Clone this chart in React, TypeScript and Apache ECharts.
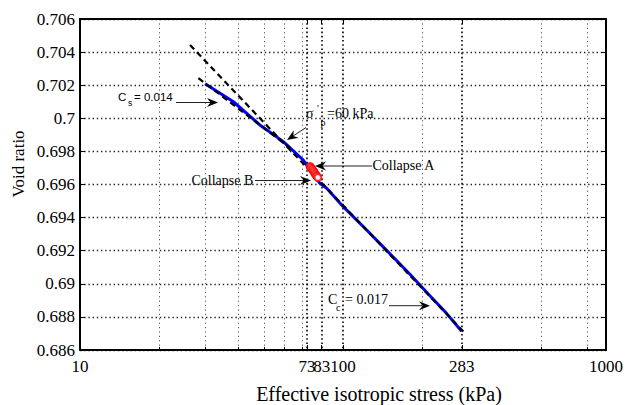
import React, { useEffect, useRef } from "react";
import * as echarts from "echarts";

// Axis ticks (stress in kPa, plotted on a log10 scale)
const stressTicks = [10, 73, 83, 100, 283, 1000];
const minorStressTicks = [20, 30, 40, 50, 60, 70, 200, 566, 849];
const voidMin = 0.686;
const voidMax = 0.706;
const voidStep = 0.002;

// Isotropic compression test record
const testStress = [29.9, 38.3, 48.3, 59.3, 70.6, 81.7, 86.7, 100.2, 123, 146.5, 179.7, 214, 248, 282.5];
const testVoid = [0.70209, 0.701, 0.6996, 0.69859, 0.69748, 0.69607, 0.69577, 0.69466, 0.69325, 0.69202, 0.69058, 0.68928, 0.6882, 0.68713];

// Collapse readings
const collapseStress = [74.9, 75.5, 76.2, 76.9, 77.6, 78.2, 78.9, 79.6, 80.3];
const collapseVoid = [0.69709, 0.69702, 0.69694, 0.69685, 0.69676, 0.69666, 0.69657, 0.6965, 0.69642];

// Fitted compression (Cc) and swelling (Cs) lines
const ccStress = [26.2, 292.8];
const ccVoid = [0.70443, 0.68697];
const csStress = [28.2, 62.9];
const csVoid = [0.70242, 0.69821];

const SERIF = "Liberation Serif";
const SANS = "Liberation Sans";

const lg = (v: number) => Math.log10(v);
const pairs = (xs: number[], ys: number[]) => xs.map((x, i) => [lg(x), ys[i]]);

// text positioned by its alphabetic baseline
function txt(x: number, baseline: number, text: string, size: number, family = SERIF) {
  return {
    type: "text",
    silent: true,
    style: {
      x,
      y: baseline - 0.34 * size,
      text,
      fontFamily: family,
      fontSize: size,
      fill: "#000",
      verticalAlign: "middle",
      align: "left",
    },
  };
}

function arrow(x1: number, y1: number, x2: number, y2: number) {
  const dx = x2 - x1;
  const dy = y2 - y1;
  const len = Math.hypot(dx, dy);
  const ux = dx / len;
  const uy = dy / len;
  const nx = -uy;
  const ny = ux;
  const L = 11;
  const W = 4.5;
  const notch = 3.5;
  return [
    {
      type: "line",
      silent: true,
      shape: { x1, y1, x2: x2 - ux * 4, y2: y2 - uy * 4 },
      style: { stroke: "#222", lineWidth: 1 },
    },
    {
      type: "polygon",
      silent: true,
      shape: {
        points: [
          [x2, y2],
          [x2 - ux * L + nx * W, y2 - uy * L + ny * W],
          [x2 - ux * (L - notch), y2 - uy * (L - notch)],
          [x2 - ux * L - nx * W, y2 - uy * L - ny * W],
        ],
      },
      style: { fill: "#000" },
    },
  ];
}

export default function App() {
  const ref = useRef<HTMLDivElement>(null);

  useEffect(() => {
    if (!ref.current) return;
    const chart = echarts.init(ref.current, null, { renderer: "svg" });

    const majorLogs = stressTicks.map(lg);
    const minorLogs = minorStressTicks.map(lg);
    const labelFont = { fontFamily: SERIF, fontSize: 17, color: "#000" };

    const option: any = {
      animation: false,
      backgroundColor: "#fff",
      grid: { left: 80, top: 19, width: 526, height: 331, containLabel: false },
      xAxis: [
        {
          type: "value",
          min: 1,
          max: 3,
          position: "bottom",
          axisLine: { show: true, lineStyle: { color: "#000", width: 2 } },
          axisTick: { show: true, inside: true, length: 5, customValues: majorLogs, lineStyle: { color: "#000", width: 1 } },
          axisLabel: {
            ...labelFont,
            customValues: majorLogs,
            margin: 8,
            formatter: (v: number) => String(Math.round(Math.pow(10, v))),
          },
          splitLine: { show: true, lineStyle: { color: "#000", width: 1.6, type: [1.6, 2.6] } },
        },
        {
          type: "value",
          min: 1,
          max: 3,
          position: "bottom",
          axisLine: { show: false },
          axisTick: { show: true, inside: true, length: 3, customValues: minorLogs, lineStyle: { color: "#000", width: 1 } },
          axisLabel: { show: false },
          splitLine: { show: true, lineStyle: { color: "#555", width: 1, type: [1.2, 3.2] } },
        },
        {
          type: "value",
          min: 1,
          max: 3,
          position: "top",
          axisLine: { show: true, lineStyle: { color: "#000", width: 2 } },
          axisTick: { show: true, inside: true, length: 5, customValues: majorLogs, lineStyle: { color: "#000", width: 1 } },
          axisLabel: { show: false },
          splitLine: { show: false },
        },
      ],
      yAxis: [
        {
          type: "value",
          min: voidMin,
          max: voidMax,
          interval: voidStep,
          position: "left",
          axisLine: { show: true, lineStyle: { color: "#000", width: 2 } },
          axisTick: { show: true, inside: true, length: 5, lineStyle: { color: "#000", width: 1 } },
          axisLabel: {
            ...labelFont,
            margin: 5,
            formatter: (v: number) => String(parseFloat(v.toFixed(3))),
          },
          splitLine: { show: true, lineStyle: { color: "#222", width: 1.4, type: [1.4, 2.8] } },
        },
        {
          type: "value",
          min: voidMin,
          max: voidMax,
          interval: voidStep,
          position: "right",
          axisLine: { show: true, lineStyle: { color: "#000", width: 2 } },
          axisTick: { show: true, inside: true, length: 5, lineStyle: { color: "#000", width: 1 } },
          axisLabel: { show: false },
          splitLine: { show: false },
        },
      ],
      series: [
        {
          name: "test",
          type: "line",
          xAxisIndex: 0,
          yAxisIndex: 0,
          data: pairs(testStress, testVoid),
          showSymbol: false,
          lineStyle: { color: "#0000ff", width: 3 },
          z: 2,
        },
        {
          name: "Cc",
          type: "line",
          xAxisIndex: 0,
          yAxisIndex: 0,
          data: pairs(ccStress, ccVoid),
          showSymbol: false,
          lineStyle: { color: "#000", width: 2.2, type: [6, 4] },
          z: 3,
        },
        {
          name: "Cs",
          type: "line",
          xAxisIndex: 0,
          yAxisIndex: 0,
          data: pairs(csStress, csVoid),
          showSymbol: false,
          lineStyle: { color: "#000", width: 2.2, type: [6, 4] },
          z: 3,
        },
        {
          name: "collapse",
          type: "scatter",
          xAxisIndex: 0,
          yAxisIndex: 0,
          data: pairs(collapseStress, collapseVoid),
          symbol: "emptyCircle",
          symbolSize: 7,
          itemStyle: { color: "#ff0000", borderColor: "#ff0000", borderWidth: 1.5 },
          z: 4,
        },
      ],
      graphic: [
        // axis titles
        {
          type: "text",
          silent: true,
          x: 18,
          y: 164,
          rotation: Math.PI / 2,
          style: {
            text: "Void ratio",
            fontFamily: SERIF,
            fontSize: 17,
            fill: "#000",
            align: "center",
            verticalAlign: "middle",
          },
        },
        {
          type: "text",
          silent: true,
          style: {
            x: 379,
            y: 394,
            text: "Effective isotropic stress (kPa)",
            fontFamily: SERIF,
            fontSize: 20,
            fill: "#000",
            align: "center",
            verticalAlign: "middle",
          },
        },
        // Cs annotation
        txt(118, 100.7, "C", 11.5, SANS),
        txt(128, 106, "s", 8.5, SANS),
        txt(134, 100.7, "= 0.014", 11.5, SANS),
        ...arrow(176, 102.5, 218, 102.5),
        // preconsolidation annotation
        txt(306, 118, "σ", 14),
        txt(317, 112, "'", 10),
        txt(320.5, 126, "p", 10),
        txt(327, 118, "=60 kPa", 14),
        ...arrow(306, 127.5, 287, 140),
        // collapse annotations
        txt(372.5, 170.7, "Collapse A", 14),
        ...arrow(372, 166, 315, 166),
        txt(191.5, 185, "Collapse B", 14),
        ...arrow(255, 180.5, 311, 180.5),
        // Cc annotation
        txt(328, 304, "C", 14),
        txt(336, 310.5, "c", 10),
        txt(345, 304, "= 0.017", 14),
        ...arrow(389, 305.7, 430, 305.7),
      ],
    };

    chart.setOption(option);
    return () => chart.dispose();
  }, []);

  return (
    <div
      ref={ref}
      style={{ position: "fixed", left: 0, top: 0, width: 627, height: 405, background: "#fff" }}
    />
  );
}
